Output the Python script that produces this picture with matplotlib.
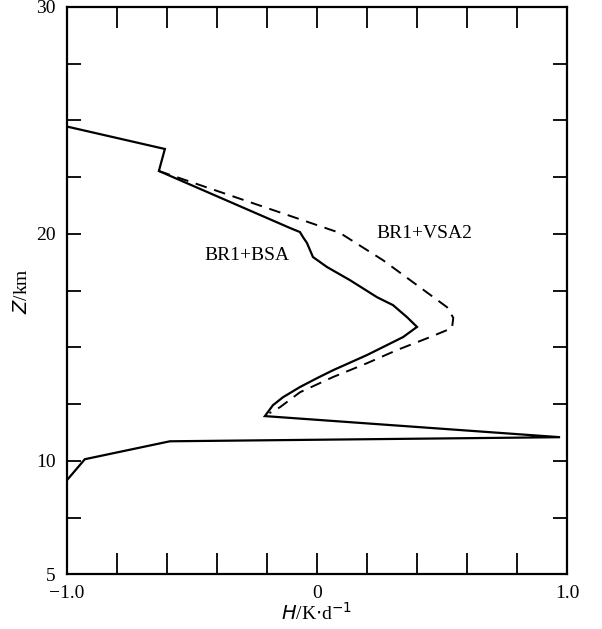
import matplotlib.pyplot as plt
from matplotlib.ticker import FixedLocator

plt.rcParams['font.family'] = ['Liberation Serif', 'DejaVu Serif']

# BR1+BSA (solid)
bsa_h = [-1.0, -0.608, -0.632, -0.108, -0.068, -0.056, -0.04, -0.016, 0.04, 0.132,
         0.24, 0.304, 0.36, 0.40, 0.344, 0.20, 0.064, 0.0, -0.068, -0.136,
         -0.176, -0.208, 0.972, -0.588, -0.928, -1.0]
bsa_z = [24.73, 23.74, 22.77, 20.26, 20.08, 19.86, 19.6, 18.98, 18.54, 17.96,
         17.21, 16.86, 16.33, 15.90, 15.45, 14.66, 13.99, 13.64, 13.25, 12.80,
         12.45, 11.97, 11.04, 10.86, 10.07, 9.14]

# BR1+VSA2 (dashed)
vsa_h = [-0.632, 0.092, 0.264, 0.40, 0.52, 0.545, 0.54, 0.452, 0.32, 0.20,
         0.064, -0.068, -0.148, -0.19]
vsa_z = [22.77, 20.04, 18.84, 17.74, 16.77, 16.3, 15.85, 15.45, 14.88, 14.30,
         13.69, 13.02, 12.36, 12.1]

fig = plt.figure(figsize=(6.02, 6.29), dpi=100)
ax = fig.add_axes([0.111, 0.087, 0.831, 0.902])

ax.plot(bsa_h, bsa_z, color='black', lw=1.6, solid_joinstyle='miter')
ax.plot(vsa_h, vsa_z, color='black', lw=1.4, dashes=(6, 4))

ax.text(-0.28, 19.05, 'BR1+BSA', fontsize=14, ha='center', va='center')
ax.text(0.43, 20.0, 'BR1+VSA2', fontsize=14, ha='center', va='center')

ax.set_xlim(-1.0, 1.0)
ax.set_ylim(5, 30)

xt = [round(-1.0 + 0.2 * i, 1) for i in range(11)]
ax.xaxis.set_major_locator(FixedLocator(xt))
ax.set_xticklabels(['−1.0' if v == -1.0 else '0' if v == 0 else '1.0' if v == 1.0 else ''
                    for v in xt])
yt = [5 + 2.5 * i for i in range(11)]
ax.yaxis.set_major_locator(FixedLocator(yt))
ax.set_yticklabels([str(int(v)) if v in (5, 10, 20, 30) else '' for v in yt])

ax.tick_params(direction='in', width=1.3, top=True, right=True, labelsize=14)
ax.tick_params(axis='x', length=15, pad=8)
ax.tick_params(axis='y', length=10, pad=8)
for s in ax.spines.values():
    s.set_linewidth(1.6)

ax.set_xlabel(r'$H$/K$\cdot$d$^{-1}$', fontsize=14, labelpad=0)
ax.set_ylabel(r'$Z$/km', fontsize=14, labelpad=4)

fig.savefig('out.png', dpi=100)
